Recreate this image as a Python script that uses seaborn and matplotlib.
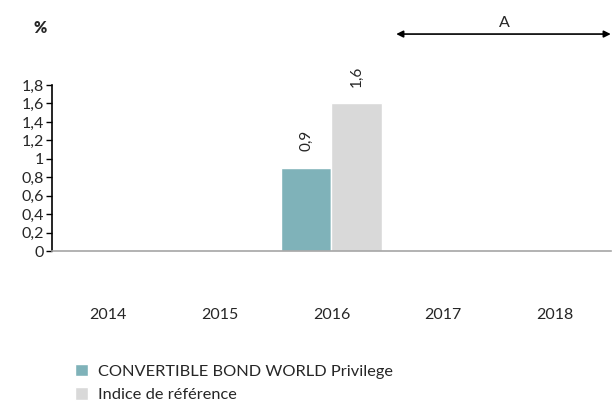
import pandas as pd
import matplotlib.pyplot as plt
import seaborn as sns

# Données
annees = ['2014', '2015', '2016', '2017', '2018']
fonds = [None, None, 0.9, None, None]
indice = [None, None, 1.6, None, None]
series = ['CONVERTIBLE BOND WORLD Privilege', 'Indice de référence']
couleurs = ['#7FB2B9', '#D9D9D9']
yticks = [0, 0.2, 0.4, 0.6, 0.8, 1, 1.2, 1.4, 1.6, 1.8]

df = pd.DataFrame({
    'Annee': annees * 2,
    'Valeur': fonds + indice,
    'Serie': [series[0]] * len(annees) + [series[1]] * len(annees),
})

sns.set_style('white')
plt.rcParams['font.family'] = ['Lato', 'DejaVu Sans']

fig = plt.figure(figsize=(6.12, 4.03), dpi=100)
ax = fig.add_axes([0.085, 0.377, 0.913, 0.412])

sns.barplot(data=df, x='Annee', y='Valeur', hue='Serie', order=annees,
            hue_order=series, palette=couleurs, width=0.9, saturation=1,
            ax=ax, legend=True)

# Étiquettes de valeur (verticales)
for cont in ax.containers:
    for barre in cont:
        h = barre.get_height()
        if h != h or h == 0:
            continue
        ax.annotate(f'{h:.1f}'.replace('.', ','),
                    (barre.get_x() + barre.get_width() / 2, h),
                    xytext=(0, 12), textcoords='offset points',
                    rotation=90, ha='center', va='bottom', fontsize=11)

ax.set_xlim(-0.5, 4.5)
ax.set_ylim(0, 1.8)
ax.set_yticks(yticks)
ax.set_yticklabels([str(v).replace('.', ',') for v in yticks], fontsize=11.5)
ax.set_xlabel('')
ax.set_ylabel('')
ax.tick_params(axis='y', length=4, width=1, color='black', pad=2, left=True)
ax.tick_params(axis='x', length=0, pad=41, labelsize=11.5)

for s in ['top', 'right']:
    ax.spines[s].set_visible(False)
ax.spines['left'].set_color('black')
ax.spines['left'].set_linewidth(1.2)
ax.spines['bottom'].set_color('#A6A6A6')
ax.spines['bottom'].set_linewidth(1.2)

# Flèche "A" sur 2017-2018
ax.annotate('', xy=(2.58, 1.307), xytext=(4.5, 1.307),
            xycoords=('data', 'axes fraction'),
            arrowprops=dict(arrowstyle='<|-|>', color='black', lw=1.2,
                            mutation_scale=10, shrinkA=0, shrinkB=0),
            annotation_clip=False)
ax.text(3.55, 1.33, 'A', transform=ax.get_xaxis_transform(),
        ha='center', va='bottom', fontsize=11.5, clip_on=False)

fig.text(0.066, 0.93, '%', ha='center', va='center', fontsize=11.5,
         fontweight='heavy')

leg = ax.legend(loc='upper left', bbox_to_anchor=(0.03, -0.64),
                frameon=False, fontsize=11.8, handlelength=0.8, handleheight=0.8,
                handletextpad=0.6, labelspacing=0.5, borderaxespad=0)

fig.savefig('out.png', dpi=100)
